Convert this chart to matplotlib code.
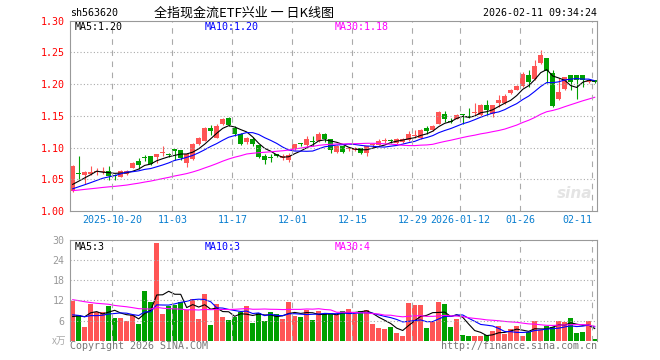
import numpy as np
import pandas as pd
import matplotlib
matplotlib.use("Agg")
import matplotlib.pyplot as plt

# daily candles, 2025-10-09 .. 2026-02-11 (88 trading days)
open_ = [1.032, 1.060, 1.056, 1.058, 1.061, 1.062, 1.0625, 1.056, 1.054, 1.058,
         1.068, 1.079, 1.085, 1.087, 1.0844, 1.091, 1.089, 1.097, 1.0958, 1.0763,
         1.082, 1.1053, 1.1105, 1.1316, 1.1158, 1.1368, 1.1463, 1.131, 1.122, 1.108,
         1.114, 1.104, 1.087, 1.0845, 1.0895, 1.0842, 1.081, 1.0974, 1.1055, 1.1036,
         1.1095, 1.1103, 1.1206, 1.1129, 1.0933, 1.1026, 1.0972, 1.0964, 1.0995, 1.0915,
         1.1036, 1.1045, 1.1103, 1.1108, 1.1068, 1.1084, 1.1121, 1.1188, 1.1147, 1.1316,
         1.1279, 1.1368, 1.1526, 1.1415, 1.1453, 1.1518, 1.1492, 1.1551, 1.1516, 1.1674,
         1.1526, 1.1695, 1.1695, 1.1863, 1.1905, 1.1968, 1.2142, 1.2074, 1.2326, 1.2405,
         1.2168, 1.1758, 1.1916, 1.2142, 1.2142, 1.2142, 1.2035, 1.2063]
high = [1.072, 1.087, 1.063, 1.071, 1.068, 1.069, 1.071, 1.059, 1.065, 1.065,
        1.078, 1.083, 1.088, 1.087, 1.0906, 1.1026, 1.092, 1.097, 1.096, 1.091,
        1.107, 1.117, 1.133, 1.1358, 1.137, 1.146, 1.148, 1.134, 1.123, 1.117,
        1.116, 1.1045, 1.0897, 1.0897, 1.0905, 1.0897, 1.091, 1.106, 1.107, 1.118,
        1.119, 1.125, 1.123, 1.114, 1.104, 1.103, 1.0995, 1.1015, 1.100, 1.103,
        1.107, 1.114, 1.1155, 1.114, 1.115, 1.115, 1.1263, 1.128, 1.130, 1.1342,
        1.1355, 1.158, 1.157, 1.147, 1.1526, 1.153, 1.163, 1.170, 1.168, 1.175,
        1.1675, 1.1826, 1.185, 1.193, 1.198, 1.2195, 1.222, 1.2379, 1.2537, 1.241,
        1.222, 1.209, 1.2115, 1.2142, 1.2145, 1.2145, 1.2063, 1.2063]
low = [1.030, 1.050, 1.042, 1.056, 1.056, 1.058, 1.049, 1.049, 1.053, 1.057,
       1.067, 1.066, 1.079, 1.073, 1.075, 1.087, 1.0844, 1.081, 1.0805, 1.0695,
       1.080, 1.104, 1.110, 1.120, 1.115, 1.136, 1.134, 1.119, 1.104, 1.106,
       1.103, 1.083, 1.0742, 1.0778, 1.085, 1.080, 1.078, 1.096, 1.102, 1.103,
       1.1026, 1.109, 1.108, 1.092, 1.092, 1.091, 1.0948, 1.0938, 1.0897, 1.087,
       1.100, 1.104, 1.1077, 1.107, 1.106, 1.107, 1.111, 1.1147, 1.114, 1.122,
       1.126, 1.137, 1.140, 1.1384, 1.1445, 1.137, 1.147, 1.1516, 1.150, 1.1516,
       1.1474, 1.1642, 1.169, 1.185, 1.190, 1.196, 1.1958, 1.207, 1.232, 1.201,
       1.1642, 1.175, 1.1905, 1.1905, 1.1758, 1.1958, 1.2011, 1.202]
close = [1.071, 1.059, 1.061, 1.061, 1.062, 1.063, 1.0557, 1.055, 1.0635, 1.0635,
         1.0755, 1.073, 1.084, 1.074, 1.0896, 1.092, 1.088, 1.095, 1.0842, 1.0905,
         1.106, 1.1147, 1.1316, 1.1263, 1.1342, 1.1447, 1.1358, 1.121, 1.106, 1.1158,
         1.105, 1.0856, 1.081, 1.084, 1.0868, 1.0868, 1.089, 1.1052, 1.105, 1.1129,
         1.109, 1.1206, 1.1135, 1.0965, 1.102, 1.0928, 1.0977, 1.099, 1.091, 1.1026,
         1.1052, 1.1103, 1.1108, 1.1103, 1.1137, 1.1137, 1.121, 1.1192, 1.1279, 1.1263,
         1.1347, 1.1568, 1.1453, 1.141, 1.1516, 1.1514, 1.1488, 1.1555, 1.1674, 1.1595,
         1.1668, 1.1747, 1.1811, 1.1905, 1.1968, 1.2158, 1.2037, 1.2284, 1.2458, 1.2211,
         1.1653, 1.1879, 1.2105, 1.2037, 1.2063, 1.2063, 1.2040, 1.2030]
volume = [11.9, 7.7, 4.2, 11.0, 8.5, 8.5, 10.4, 6.9, 6.9, 6.0,
          7.7, 5.0, 14.9, 11.5, 29.0, 8.0, 10.2, 10.5, 11.4, 9.2,
          12.5, 6.5, 14.0, 4.7, 11.0, 7.2, 6.2, 7.2, 8.5, 10.4,
          5.3, 8.2, 5.9, 8.6, 7.9, 6.5, 11.6, 7.5, 7.1, 9.2,
          6.2, 8.9, 7.9, 7.9, 7.7, 8.9, 9.5, 8.1, 8.9, 9.2,
          5.0, 3.8, 3.5, 4.1, 2.3, 1.5, 11.3, 10.5, 10.7, 3.8,
          5.5, 11.6, 11.0, 4.1, 6.5, 1.7, 1.4, 1.4, 1.4, 1.7,
          2.9, 4.4, 2.0, 3.5, 4.4, 1.4, 2.6, 5.9, 3.2, 4.4,
          4.1, 5.9, 5.5, 6.8, 2.3, 2.6, 5.9, 0.5]

# estimated closes / volumes of the 29 sessions before the window (for the MAs)
pre_close = [1.032, 1.029, 1.031, 1.033, 1.030, 1.028, 1.031, 1.034, 1.032, 1.029,
             1.030, 1.031, 1.028, 1.030, 1.033, 1.031, 1.029, 1.030, 1.032, 1.030,
             1.027, 1.029, 1.028, 1.027, 1.029, 1.034, 1.035, 1.036, 1.034]
pre_volume = [16.2, 13.8, 18.5, 15.1, 12.7, 14.9, 17.3, 13.2, 11.8, 15.6,
              14.1, 16.8, 12.9, 13.5, 15.8, 14.4, 12.2, 13.9, 15.3, 11.5,
              9.4, 8.1, 7.6, 8.7, 7.2, 6.8, 5.4, 5.1, 6.8]

holidays = ["2026-01-01", "2026-01-02"]
tick_dates = ["2025-10-20", "2025-11-03", "2025-11-17", "2025-12-01", "2025-12-15",
              "2025-12-29", "2026-01-12", "2026-01-26", "2026-02-11"]
tick_labels = ["2025-10-20", "11-03", "11-17", "12-01", "12-15",
               "12-29", "2026-01-12", "01-26", "02-11"]

RED = "#ff5555"
GREEN = "#00a000"
GRID = "#aaaaaa"
MONO = "DejaVu Sans Mono"

dates = pd.bdate_range("2025-10-09", "2026-02-11")
dates = dates[~dates.isin(pd.to_datetime(holidays))]
x = np.arange(len(dates))
tick_pos = [dates.get_loc(pd.Timestamp(d)) - 0.37 for d in tick_dates]

o = np.array(open_); h = np.array(high); l = np.array(low); c = np.array(close)
v = np.array(volume)
up = c >= o
cols = np.where(up, RED, GREEN)

cs = pd.Series(pre_close + close)
vs = pd.Series(pre_volume + volume)
n0 = len(pre_close)
ma = {k: cs.rolling(k).mean().values[n0:] for k in (5, 10, 30)}
vma = {k: vs.rolling(k).mean().values[n0:] for k in (5, 10, 30)}
ma_cols = {5: "black", 10: "#0000ff", 30: "#ff00ff"}

W, H = 660, 360
fig = plt.figure(figsize=(W / 100, H / 100), dpi=100)
ax = fig.add_axes([70 / W, 1 - 211 / H, 527 / W, 190.3 / H])
axv = fig.add_axes([70 / W, 1 - 340.7 / H, 527 / W, 100.7 / H])

# price panel
ax.vlines(x, l, h, color=cols, lw=0.8)
body = np.maximum(np.abs(c - o), 0.0016)
ax.bar(x, body, bottom=np.minimum(o, c), width=0.75, color=cols, lw=0)
for k in (5, 10, 30):
    ax.plot(x, ma[k], color=ma_cols[k], lw=0.8)
ax.set_ylim(1.0, 1.30)
ax.set_yticks([1.00, 1.05, 1.10, 1.15, 1.20, 1.25, 1.30])
ax.set_yticklabels(["%.2f" % t for t in ax.get_yticks()], family=MONO, fontsize=7.2)
for y in [1.05, 1.10, 1.15, 1.20, 1.25]:
    ax.axhline(y, color=GRID, lw=0.8, ls=(0, (1, 2)))

# volume panel
axv.bar(x, v, width=0.83, color=cols, lw=0)
for k in (5, 10, 30):
    axv.plot(x, vma[k], color=ma_cols[k], lw=0.8)
axv.set_ylim(0, 30)
axv.set_yticks([6, 12, 18, 24, 30])
axv.set_yticklabels(["6", "12", "18", "24", "30"], family=MONO, fontsize=7.2)
for y in [6, 12, 18, 24]:
    axv.axhline(y, color=GRID, lw=0.8, ls=(0, (1, 2)))

for a in (ax, axv):
    a.set_xlim(-0.45, 87.38)
    for t in tick_pos:
        a.axvline(t, color=GRID, lw=0.8, ls=(0, (5, 5)))
    for s in a.spines.values():
        s.set_color("#999999")
    a.tick_params(length=0, pad=4)
axv.spines["bottom"].set_visible(False)
ax.tick_params(axis="y", labelcolor="red")
axv.tick_params(axis="y", labelcolor="#999999")
ax.set_xticks(tick_pos)
ax.set_xticklabels(tick_labels, family=MONO, fontsize=7.2, color="#0a7fd0")
ax.get_xticklabels()[-1].set_ha("right")
ax.tick_params(axis="x", pad=3)
axv.set_xticks([])


def ftext(px, py, s, **kw):
    fig.text(px / W, 1 - py / H, s, va="center", **kw)


ftext(70, 13, "sh563620", family=MONO, fontsize=7.2)
ftext(244, 13, "全指现金流ETF兴业 一 日K线图", ha="center",
      family=["Noto Sans CJK SC", "DejaVu Sans"], fontsize=9.4)
ftext(597, 13, "2026-02-11 09:34:24", ha="right", family=MONO, fontsize=7.2)
ftext(75, 27, "MA5:1.20", family=MONO, fontsize=7.2, color="black")
ftext(205, 27, "MA10:1.20", family=MONO, fontsize=7.2, color="#0000ff")
ftext(335, 27, "MA30:1.18", family=MONO, fontsize=7.2, color="#ff00ff")
ftext(75, 247, "MA5:3", family=MONO, fontsize=7.2, color="black")
ftext(205, 247, "MA10:3", family=MONO, fontsize=7.2, color="#0000ff")
ftext(335, 247, "MA30:4", family=MONO, fontsize=7.2, color="#ff00ff")
ftext(66, 341, "x万", ha="right", family=["Noto Sans CJK SC", "DejaVu Sans"],
      fontsize=7, color="#aaaaaa")
ftext(70, 346, "Copyright 2026 SINA.COM", family=MONO, fontsize=7.2, color="#777777")
ftext(597, 346, "http://finance.sina.com.cn", ha="right", family=MONO,
      fontsize=7.2, color="#777777")
ftext(575, 193, "sina", ha="center", fontsize=11, style="italic",
      weight="bold", color="#e4e4e4")

fig.savefig("out.png", dpi=100)
